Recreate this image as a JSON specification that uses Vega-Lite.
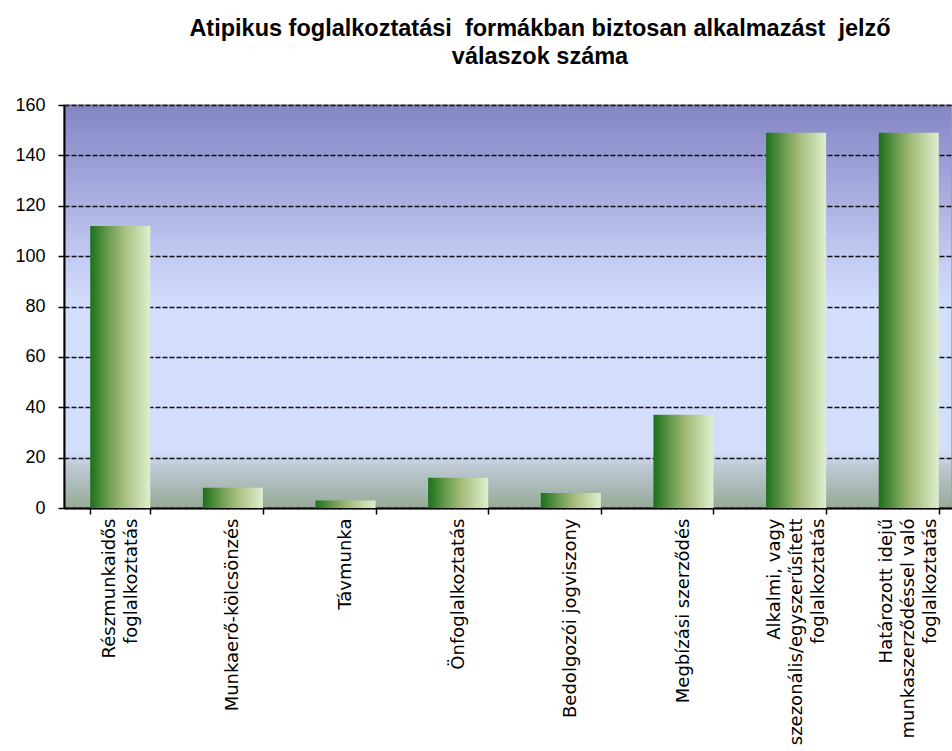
{
  "$schema": "https://vega.github.io/schema/vega-lite/v6.json",
  "autosize": {"type": "none"},
  "width": 888,
  "height": 403,
  "padding": {"left": 64, "top": 105, "right": 0, "bottom": 243},
  "background": "white",
  "config": {
    "font": "Liberation Sans"
  },
  "view": {
    "stroke": "#a0a0a0",
    "strokeWidth": 1.5,
    "fill": {
      "gradient": "linear",
      "x1": 0, "y1": 0, "x2": 0, "y2": 1,
      "stops": [
        {"offset": 0, "color": "#8486c2"},
        {"offset": 0.125, "color": "#989bd4"},
        {"offset": 0.25, "color": "#adb2e2"},
        {"offset": 0.375, "color": "#c2caf2"},
        {"offset": 0.5, "color": "#d3ddfd"},
        {"offset": 0.86, "color": "#d3ddfc"},
        {"offset": 0.9, "color": "#bcc7d2"},
        {"offset": 1, "color": "#96aa96"}
      ]
    }
  },
  "title": {
    "text": ["Atipikus foglalkoztatási \u00a0formákban biztosan alkalmazást \u00a0jelző", "válaszok száma"],
    "font": "Liberation Sans",
    "fontSize": 23.5,
    "fontWeight": "bold",
    "color": "#000000",
    "anchor": "middle",
    "baseline": "bottom",
    "lineHeight": 28,
    "offset": 4,
    "dx": 32
  },
  "data": {
    "values": [
      {"forma": "Részmunkaidős\nfoglalkoztatás", "valaszok": 112},
      {"forma": "Munkaerő-kölcsönzés", "valaszok": 8},
      {"forma": "Távmunka", "valaszok": 3},
      {"forma": "Önfoglalkoztatás", "valaszok": 12},
      {"forma": "Bedolgozói  jogviszony", "valaszok": 6},
      {"forma": "Megbízási szerződés", "valaszok": 37},
      {"forma": "Alkalmi, vagy\nszezonális/egyszerűsített\nfoglalkoztatás", "valaszok": 149},
      {"forma": "Határozott idejű\nmunkaszerződéssel való\nfoglalkoztatás", "valaszok": 149}
    ]
  },
  "mark": {
    "type": "bar",
    "fill": {
      "gradient": "linear",
      "x1": 0, "y1": 0, "x2": 1, "y2": 0,
      "stops": [
        {"offset": 0, "color": "#1c701c"},
        {"offset": 0.3, "color": "#6a9c4e"},
        {"offset": 0.55, "color": "#a4bc7a"},
        {"offset": 1, "color": "#e0eece"}
      ]
    }
  },
  "encoding": {
    "x": {
      "field": "forma",
      "type": "nominal",
      "sort": null,
      "title": null,
      "scale": {"range": [0, 901], "paddingInner": 0.467, "paddingOuter": 0.233},
      "axis": {
        "tickBand": "extent",
        "domainColor": "#000000",
        "domainWidth": 2,
        "tickColor": "#000000",
        "tickWidth": 1.5,
        "tickSize": 6,
        "labelAngle": 270,
        "labelFont": "DejaVu Sans",
        "labelFontSize": 18,
        "labelLineHeight": 22,
        "labelPadding": 4,
        "labelLimit": 400,
        "labelColor": "#000000",
        "labelOffset": {
          "condition": [
            {"test": "isValid(datum.value) && length(split(datum.value, '\\n')) == 3", "value": -22},
            {"test": "isValid(datum.value) && length(split(datum.value, '\\n')) == 2", "value": -11}
          ],
          "value": 0
        },
        "labelExpr": "isValid(datum.value) ? split(datum.value, '\\n') : ''"
      }
    },
    "y": {
      "field": "valaszok",
      "type": "quantitative",
      "title": null,
      "scale": {"domain": [0, 160], "nice": false},
      "axis": {
        "values": [0, 20, 40, 60, 80, 100, 120, 140, 160],
        "domainColor": "#000000",
        "domainWidth": 2,
        "tickColor": "#000000",
        "tickWidth": 1.5,
        "tickSize": 6,
        "labelFontSize": 18,
        "labelPadding": 13,
        "labelColor": "#000000",
        "grid": true,
        "gridColor": "#111111",
        "gridWidth": 1.5,
        "gridDash": [5, 2]
      }
    }
  }
}
